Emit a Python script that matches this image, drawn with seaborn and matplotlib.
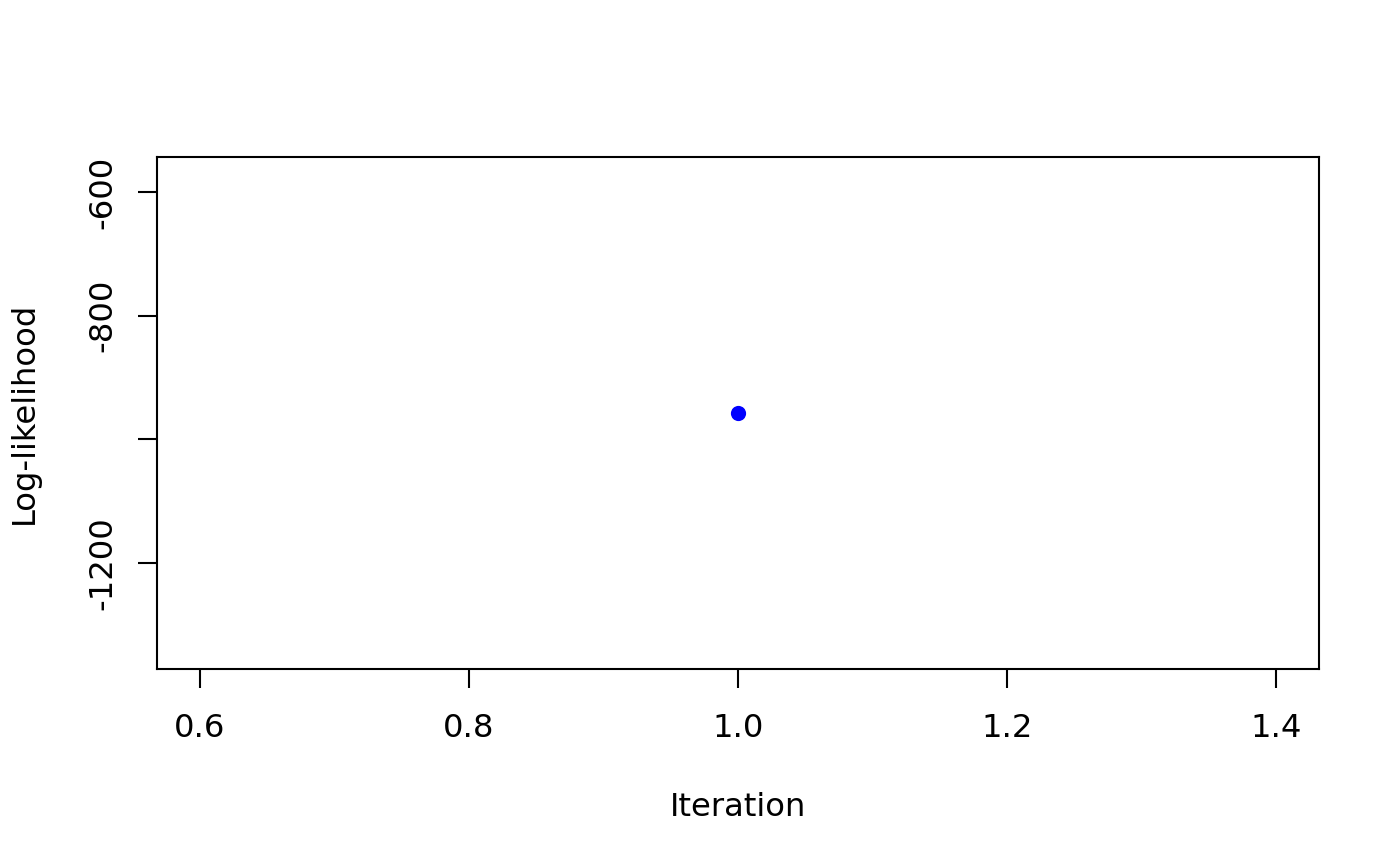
import matplotlib
matplotlib.use("Agg")
import matplotlib.pyplot as plt
import seaborn as sns
import pandas as pd

iterations = [1]
loglik = [-958.0]

x_ticks = [0.6, 0.8, 1.0, 1.2, 1.4]
x_labels = ["0.6", "0.8", "1.0", "1.2", "1.4"]
y_ticks = [-1200, -1000, -800, -600]
y_labels = ["-1200", "", "-800", "-600"]

sns.set_theme(style="white")
plt.rcParams['font.family'] = ['DejaVu Sans']

df = pd.DataFrame({"Iteration": iterations, "Log-likelihood": loglik})

fig = plt.figure(figsize=(14, 8.66), dpi=100)
ax = fig.add_axes([157/1400, 1-669/866, (1319-157)/1400, (669-157)/866])

sns.scatterplot(data=df, x="Iteration", y="Log-likelihood", ax=ax,
                color="#0000ff", s=120, edgecolor="#0000ff", linewidth=0)

ax.set_xlim(0.568, 1.432)
ax.set_ylim(-1372, -543)
ax.set_xticks(x_ticks)
ax.set_xticklabels(x_labels)
ax.set_yticks(y_ticks)
ax.set_yticklabels(y_labels, rotation=90, va="center")

for s in ax.spines.values():
    s.set_color("black")
    s.set_linewidth(1.5)
    s.set_visible(True)

ax.tick_params(axis="both", which="major", direction="out", length=14,
               width=1.5, color="black", labelsize=23.2, labelcolor="black",
               bottom=True, left=True)
ax.tick_params(axis="x", pad=18)
ax.tick_params(axis="y", pad=14)

ax.set_xlabel("Iteration", fontsize=23.2, color="black", labelpad=34)
ax.set_ylabel("Log-likelihood", fontsize=23.2, color="black", labelpad=34)
ax.grid(False)

fig.savefig("out.png", dpi=100, facecolor="white")
